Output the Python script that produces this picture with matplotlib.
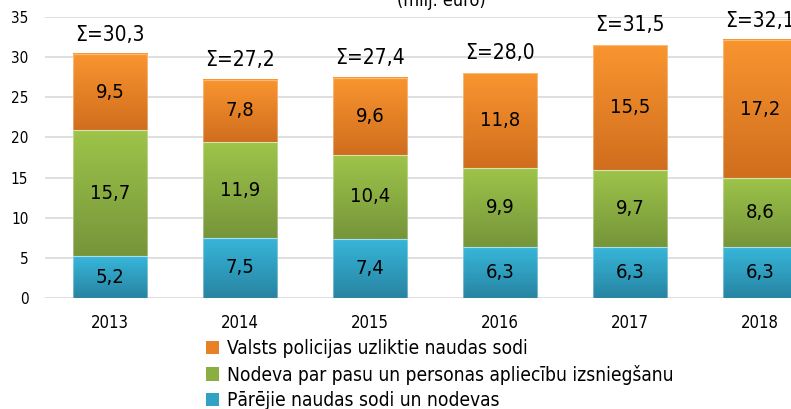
import numpy as np
import matplotlib
matplotlib.use("Agg")
import matplotlib.pyplot as plt
from matplotlib.patches import Rectangle
from matplotlib.colors import LinearSegmentedColormap

years = ["2013", "2014", "2015", "2016", "2017", "2018"]
other = [5.2, 7.5, 7.4, 6.3, 6.3, 6.3]
passport = [15.7, 11.9, 10.4, 9.9, 9.7, 8.6]
police = [9.5, 7.8, 9.6, 11.8, 15.5, 17.2]
totals = [30.3, 27.2, 27.4, 28.0, 31.5, 32.1]
labels = ["Valsts policijas uzliktie naudas sodi",
          "Nodeva par pasu un personas apliecību izsniegšanu",
          "Pārējie naudas sodi un nodevas"]
yticks = [0, 5, 10, 15, 20, 25, 30, 35]

FONT = ["DejaVu Sans"]
plt.rcParams['font.family'] = FONT
plt.rcParams['font.stretch'] = 'condensed'

# (top colour, bottom colour)
grad = {
    "other": ("#37B6DA", "#2884A2"),
    "passport": ("#9EC44A", "#76953A"),
    "police": ("#F9952F", "#D06E1E"),
}
mid = {"other": "#31A2C4", "passport": "#8BAE42", "police": "#E88027"}

fig = plt.figure(figsize=(7.91, 4.09), dpi=100)
ax = fig.add_axes([45/791, (409-298)/409, 780/791, 281/409])

x = np.arange(len(years))
w = 0.57

def gbar(xc, bottom, h, key):
    top_c, bot_c = grad[key]
    cmap = LinearSegmentedColormap.from_list(key, [bot_c, top_c])
    arr = np.linspace(0, 1, 64).reshape(-1, 1)
    ax.imshow(arr, cmap=cmap, origin='lower', aspect='auto',
              extent=[xc - w/2, xc + w/2, bottom, bottom + h],
              interpolation='bilinear', zorder=2)
    ax.add_patch(Rectangle((xc - w/2, bottom), w, h, fill=False,
                           edgecolor=(1, 1, 1, 0.35), linewidth=0.8, zorder=3))

for i in range(len(years)):
    b = 0
    for key, vals in (("other", other), ("passport", passport), ("police", police)):
        v = vals[i]
        gbar(x[i], b, v, key)
        ax.text(x[i], b + v/2, f"{v:.1f}".replace(".", ","), ha='center', va='center',
                fontsize=14.5, color='black', zorder=4)
        b += v
    ax.annotate(f"Σ={totals[i]:.1f}".replace(".", ","), (x[i], totals[i]),
                xytext=(0, 7), textcoords='offset points', ha='center', va='bottom',
                fontsize=15, zorder=4)

ax.set_xlim(-0.5, len(years) - 0.5)
ax.set_ylim(0, 35)
ax.set_yticks(yticks)
ax.set_yticklabels([str(t) for t in yticks], fontsize=11)
ax.set_xticks(x)
ax.set_xticklabels(years, fontsize=12)
ax.tick_params(length=0)
ax.tick_params(axis='y', pad=12)
ax.tick_params(axis='x', pad=11.5)
for s in ax.spines.values():
    s.set_visible(False)
ax.yaxis.grid(True, color='#D9D9D9', linewidth=1.2, zorder=0)
ax.set_axisbelow(True)

handles = [Rectangle((0, 0), 1, 1, facecolor=mid[k], edgecolor='none')
           for k in ("police", "passport", "other")]
fig.legend(handles, labels, loc='upper left', bbox_to_anchor=(206/791, 1 - 339/409),
           frameon=False, fontsize=13.8, handlelength=0.7, handleheight=0.7,
           handletextpad=0.4, labelspacing=0.35, borderpad=0, borderaxespad=0)

fig.text(441/791, 1 - 6/409, "(milj. euro)", ha='center', va='baseline', fontsize=13)

fig.savefig("out.png", dpi=100)
